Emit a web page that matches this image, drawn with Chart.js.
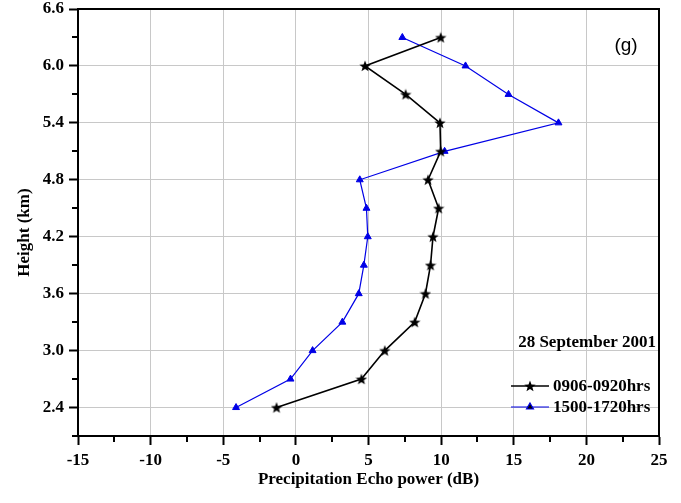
<!DOCTYPE html>
<html>
<head>
<meta charset="utf-8">
<script src="https://cdn.jsdelivr.net/npm/chart.js@4/dist/chart.umd.min.js"></script>
<style>
html,body{margin:0;padding:0;background:#fff;}
#c{display:block;}
</style>
</head>
<body>
<canvas id="c" width="681" height="503"></canvas>
<script>
// ---- data ----
const heights = [2.4, 2.7, 3.0, 3.3, 3.6, 3.9, 4.2, 4.5, 4.8, 5.1, 5.4, 5.7, 6.0, 6.3];
const echo0906 = [-1.33, 4.51, 6.12, 8.18, 8.92, 9.27, 9.44, 9.83, 9.10, 9.97, 9.92, 7.56, 4.76, 9.97];
const echo1500 = [-4.12, -0.37, 1.15, 3.20, 4.33, 4.68, 4.95, 4.86, 4.40, 10.24, 18.08, 14.64, 11.68, 7.33];
const seriesLabels = ['0906-0920hrs', '1500-1720hrs'];
const xTickValues = [-15, -10, -5, 0, 5, 10, 15, 20, 25];
const xTickLabels = ['-15', '-10', '-5', '0', '5', '10', '15', '20', '25'];
const yTickValues = [2.4, 3.0, 3.6, 4.2, 4.8, 5.4, 6.0, 6.6];
const yTickLabels = ['2.4', '3.0', '3.6', '4.2', '4.8', '5.4', '6.0', '6.6'];
const xTitle = 'Precipitation Echo power (dB)';
const yTitle = 'Height (km)';
const dateText = '28 September 2001';
const panelText = '(g)';

// ---- styles ----
const serif = "'Liberation Serif', 'Times New Roman', serif";
const sans = "'Liberation Sans', Arial, sans-serif";
const blue = '#0000e6';

function makeStar(size, color) {
  const c = document.createElement('canvas');
  c.width = size; c.height = size;
  const g = c.getContext('2d');
  const cx = size / 2, cy = size / 2 + 0.5, ro = size / 2, ri = ro * 0.42;
  g.beginPath();
  for (let i = 0; i < 10; i++) {
    const r = i % 2 === 0 ? ro : ri;
    const a = -Math.PI / 2 + i * Math.PI / 5;
    const px = cx + r * Math.cos(a), py = cy + r * Math.sin(a);
    if (i === 0) g.moveTo(px, py); else g.lineTo(px, py);
  }
  g.closePath();
  g.fillStyle = color;
  g.fill();
  return c;
}
const starImg = makeStar(12, '#000');

const toPoints = (xs) => heights.map((h, i) => ({x: xs[i], y: h}));

const framePlugin = {
  id: 'frame',
  beforeDatasetsDraw(chart) {
    const {ctx, chartArea: a, scales} = chart;
    ctx.save();
    ctx.strokeStyle = '#000';
    ctx.lineWidth = 2;
    ctx.beginPath();
    ctx.moveTo(a.left, a.top); ctx.lineTo(a.right, a.top); ctx.lineTo(a.right, a.bottom);
    ctx.stroke();
    // minor ticks (midpoints between major ticks)
    const xs = scales.x, ys = scales.y;
    for (let i = 0; i < xTickValues.length - 1; i++) {
      const v = (xTickValues[i] + xTickValues[i + 1]) / 2;
      const px = Math.round(xs.getPixelForValue(v));
      ctx.beginPath(); ctx.moveTo(px, a.bottom); ctx.lineTo(px, a.bottom + 6); ctx.stroke();
    }
    const yMinor = [];
    for (let i = 0; i < yTickValues.length - 1; i++) yMinor.push((yTickValues[i] + yTickValues[i + 1]) / 2);
    yMinor.push(yTickValues[0] - (yTickValues[1] - yTickValues[0]) / 2);
    yMinor.forEach(v => {
      const py = Math.round(ys.getPixelForValue(v));
      ctx.beginPath(); ctx.moveTo(a.left, py); ctx.lineTo(a.left - 6, py); ctx.stroke();
    });
    ctx.restore();
  },
  afterDatasetsDraw(chart) {
    const {ctx, chartArea: a} = chart;
    ctx.save();
    // panel label
    ctx.fillStyle = '#000';
    ctx.font = '19px ' + sans;
    ctx.textAlign = 'center';
    ctx.textBaseline = 'middle';
    ctx.fillText(panelText, a.right - 33, a.top + 37);
    // date
    ctx.font = 'bold 17px ' + serif;
    ctx.textAlign = 'right';
    ctx.fillText(dateText, a.right - 3, a.bottom - 93);
    // legend
    const rows = [a.bottom - 50, a.bottom - 29];
    chart.data.datasets.forEach((ds, i) => {
      const y = rows[i];
      const x0 = a.right - 148, x1 = a.right - 110;
      ctx.strokeStyle = ds.borderColor;
      ctx.lineWidth = ds.borderWidth;
      ctx.beginPath(); ctx.moveTo(x0, y); ctx.lineTo(x1, y); ctx.stroke();
      Chart.helpers.drawPoint(ctx, {
        pointStyle: ds.pointStyle, radius: ds.pointRadius, rotation: 0, borderWidth: 1
      }, (x0 + x1) / 2, y);
      ctx.fillStyle = '#000';
      ctx.font = 'bold 17px ' + serif;
      ctx.textAlign = 'left';
      ctx.textBaseline = 'middle';
      ctx.fillText(ds.label, a.right - 106, y + 1);
    });
    // y title
    ctx.translate(25, (a.top + a.bottom) / 2 + 10);
    ctx.rotate(-Math.PI / 2);
    ctx.textAlign = 'center';
    ctx.textBaseline = 'middle';
    ctx.font = 'bold 17px ' + serif;
    ctx.fillText(yTitle, 0, 0);
    ctx.restore();
  }
};

const tickFont = {family: serif, size: 17, weight: 'bold'};

new Chart(document.getElementById('c'), {
  type: 'scatter',
  data: {
    datasets: [
      {
        label: seriesLabels[0],
        data: toPoints(echo0906),
        showLine: true,
        borderColor: '#000',
        backgroundColor: '#000',
        borderWidth: 1.6,
        pointStyle: starImg,
        pointRadius: 6,
        tension: 0,
        order: 1
      },
      {
        label: seriesLabels[1],
        data: toPoints(echo1500),
        showLine: true,
        borderColor: blue,
        backgroundColor: blue,
        borderWidth: 1.2,
        pointStyle: 'triangle',
        pointRadius: 4,
        pointBorderWidth: 1,
        tension: 0,
        order: 2
      }
    ]
  },
  options: {
    responsive: false,
    animation: false,
    layout: {padding: {left: 0, right: 22, top: 9, bottom: 0}},
    plugins: {legend: {display: false}, tooltip: {enabled: false}},
    scales: {
      x: {
        type: 'linear', min: -15, max: 25,
        afterBuildTicks: s => { s.ticks = xTickValues.map(v => ({value: v})); },
        afterFit: s => { s.height = 67; },
        ticks: {
          callback: (v, i) => xTickLabels[i],
          font: tickFont, color: '#000', padding: 5, maxRotation: 0, autoSkip: false
        },
        grid: {color: '#c8c8c8', lineWidth: 1, tickColor: '#000', tickLength: 9, tickWidth: 2},
        border: {color: '#000', width: 2},
        title: {display: true, text: xTitle, font: tickFont, color: '#000', padding: {top: 0, bottom: 13}}
      },
      y: {
        type: 'linear', min: 2.1, max: 6.6,
        afterBuildTicks: s => { s.ticks = yTickValues.map(v => ({value: v})); },
        afterFit: s => { s.width = 78; s.paddingTop = 0; s.paddingBottom = 0; },
        ticks: {
          callback: (v, i) => yTickLabels[i],
          font: tickFont, color: '#000', padding: 5, autoSkip: false
        },
        grid: {color: '#c8c8c8', lineWidth: 1, tickColor: '#000', tickLength: 9, tickWidth: 2},
        border: {color: '#000', width: 2}
      }
    }
  },
  plugins: [framePlugin]
});
</script>
</body>
</html>
